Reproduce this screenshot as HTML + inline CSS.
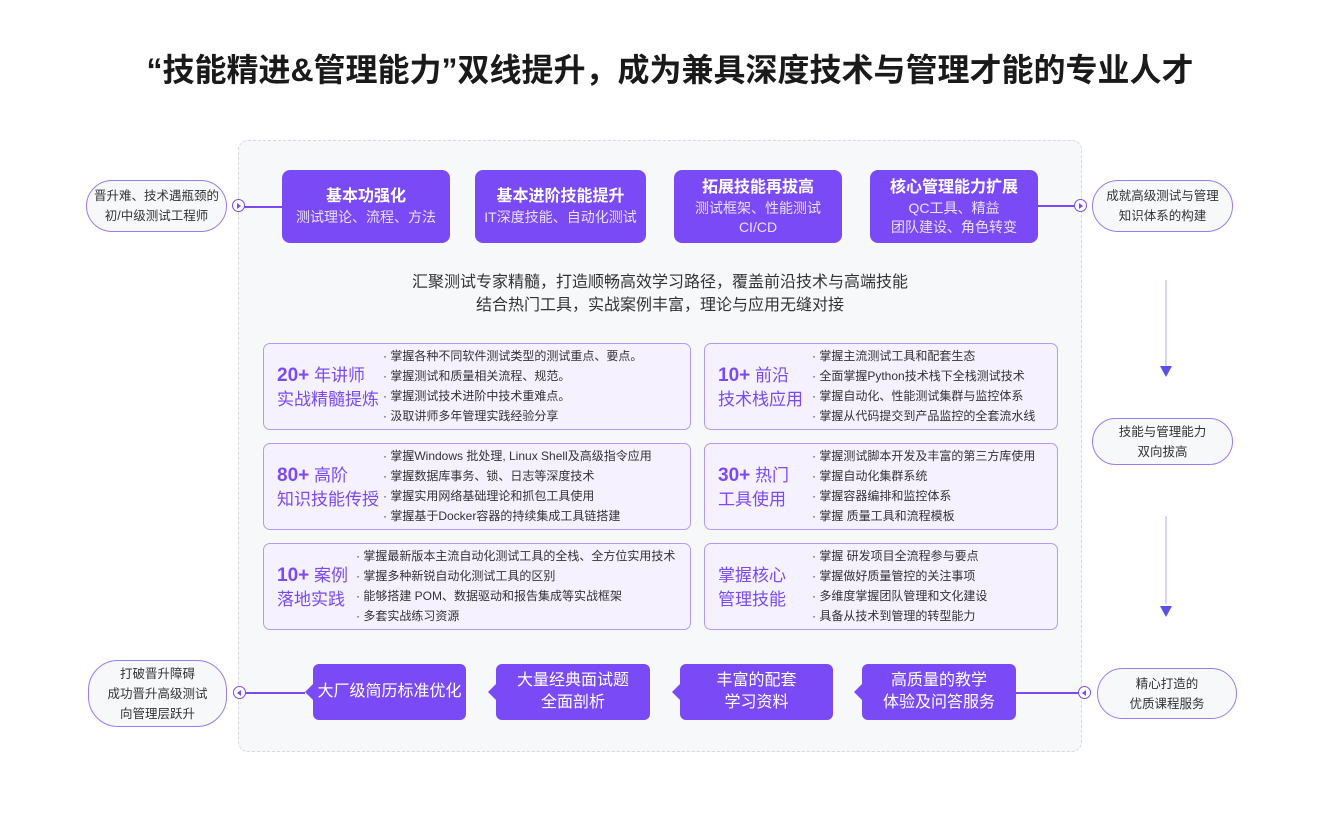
<!DOCTYPE html>
<html><head><meta charset="utf-8"><style>
*{margin:0;padding:0;box-sizing:border-box}
body{width:1328px;height:817px;background:#fff;position:relative;overflow:hidden;font-family:"Liberation Sans","Noto Sans CJK SC",sans-serif;color:#333}
.a{position:absolute}
.title{left:0;width:1340px;top:45px;text-align:center;font-size:32px;font-weight:bold;color:#1a1a1a}
.cont{left:238px;top:140px;width:844px;height:612px;background:#f7f8fa;border:1px dashed #d8d8de;border-radius:10px}
.tb{background:#7b4af7;color:#fff;border-radius:8px;text-align:center;top:170px;height:73px;display:flex;flex-direction:column;justify-content:center}
.tb b{font-size:16px;line-height:22px}
.tb span{font-size:14px;line-height:19px;color:#e8e0ff}
.pill{background:#f7f8fa;border:1.5px solid #9b7af5;border-radius:30px;text-align:center;font-size:12.5px;line-height:20px;display:flex;flex-direction:column;justify-content:center;color:#333}
.cir{width:13px;height:13px;border:1.5px solid #7b4af7;border-radius:50%;background:#fff}
.cir:after{content:"";position:absolute;left:3.5px;top:2.5px;border-left:4px solid #7b4af7;border-top:3px solid transparent;border-bottom:3px solid transparent}
.cir.l:after{left:2.5px;border-left:0;border-right:4px solid #7b4af7}
.ln{height:1.5px;background:#7b4af7}
.mid{left:238px;width:844px;text-align:center;font-size:16px;line-height:23px;color:#333}
.card{background:#f5f1ff;border:1.5px solid #b39af5;border-radius:7px}
.big{color:#7b4af7;font-size:17px;line-height:24px}
.big b{font-size:19px;font-weight:600}
.ul{font-size:12px;line-height:20px;color:#333;white-space:nowrap}
.bb{background:#7b4af7;color:#fff;border-radius:6px;top:664px;height:56px;text-align:center;font-size:16px;line-height:22px;display:flex;flex-direction:column;justify-content:center}
.bb:before{content:"";position:absolute;left:-8px;top:20px;border-right:8px solid #7b4af7;border-top:8px solid transparent;border-bottom:8px solid transparent}
.vl{width:1.5px;background:#d8d6f2}
.ah{border-top:11px solid #5b50e8;border-left:6px solid transparent;border-right:6px solid transparent}
</style></head><body>
<div class="a title">“技能精进&amp;管理能力”双线提升，成为兼具深度技术与管理才能的专业人才</div>
<div class="a cont"></div>

<div class="a pill" style="left:86px;top:180px;width:141px;height:52px">晋升难、技术遇瓶颈的<br>初/中级测试工程师</div>
<div class="a ln" style="left:238px;top:206px;width:44px"></div>
<div class="a cir" style="left:232px;top:199px"></div>

<div class="a tb" style="left:282px;width:168px"><b>基本功强化</b><span>测试理论、流程、方法</span></div>
<div class="a tb" style="left:475px;width:171px"><b>基本进阶技能提升</b><span>IT深度技能、自动化测试</span></div>
<div class="a tb" style="left:674px;width:168px"><b>拓展技能再拔高</b><span>测试框架、性能测试<br>CI/CD</span></div>
<div class="a tb" style="left:870px;width:168px"><b>核心管理能力扩展</b><span>QC工具、精益<br>团队建设、角色转变</span></div>

<div class="a ln" style="left:1038px;top:205px;width:44px"></div>
<div class="a cir" style="left:1074px;top:199px"></div>
<div class="a pill" style="left:1092px;top:180px;width:141px;height:52px">成就高级测试与管理<br>知识体系的构建</div>

<div class="a mid" style="top:271px">汇聚测试专家精髓，打造顺畅高效学习路径，覆盖前沿技术与高端技能<br>结合热门工具，实战案例丰富，理论与应用无缝对接</div>

<div class="a card" style="left:263px;top:343px;width:428px;height:87px"></div>
<div class="a big" style="left:277px;top:364px"><b>20+</b> 年讲师<br>实战精髓提炼</div>
<div class="a ul" style="left:383px;top:346px">· 掌握各种不同软件测试类型的测试重点、要点。<br>· 掌握测试和质量相关流程、规范。<br>· 掌握测试技术进阶中技术重难点。<br>· 汲取讲师多年管理实践经验分享</div>

<div class="a card" style="left:263px;top:443px;width:428px;height:87px"></div>
<div class="a big" style="left:277px;top:464px"><b>80+</b> 高阶<br>知识技能传授</div>
<div class="a ul" style="left:383px;top:446px">· 掌握Windows 批处理, Linux Shell及高级指令应用<br>· 掌握数据库事务、锁、日志等深度技术<br>· 掌握实用网络基础理论和抓包工具使用<br>· 掌握基于Docker容器的持续集成工具链搭建</div>

<div class="a card" style="left:263px;top:543px;width:428px;height:87px"></div>
<div class="a big" style="left:277px;top:564px"><b>10+</b> 案例<br>落地实践</div>
<div class="a ul" style="left:356px;top:546px">· 掌握最新版本主流自动化测试工具的全栈、全方位实用技术<br>· 掌握多种新锐自动化测试工具的区别<br>· 能够搭建 POM、数据驱动和报告集成等实战框架<br>· 多套实战练习资源</div>

<div class="a card" style="left:704px;top:343px;width:354px;height:87px"></div>
<div class="a big" style="left:718px;top:364px"><b>10+</b> 前沿<br>技术栈应用</div>
<div class="a ul" style="left:812px;top:346px">· 掌握主流测试工具和配套生态<br>· 全面掌握Python技术栈下全栈测试技术<br>· 掌握自动化、性能测试集群与监控体系<br>· 掌握从代码提交到产品监控的全套流水线</div>

<div class="a card" style="left:704px;top:443px;width:354px;height:87px"></div>
<div class="a big" style="left:718px;top:464px"><b>30+</b> 热门<br>工具使用</div>
<div class="a ul" style="left:812px;top:446px">· 掌握测试脚本开发及丰富的第三方库使用<br>· 掌握自动化集群系统<br>· 掌握容器编排和监控体系<br>· 掌握 质量工具和流程模板</div>

<div class="a card" style="left:704px;top:543px;width:354px;height:87px"></div>
<div class="a big" style="left:718px;top:564px">掌握核心<br>管理技能</div>
<div class="a ul" style="left:812px;top:546px">· 掌握 研发项目全流程参与要点<br>· 掌握做好质量管控的关注事项<br>· 多维度掌握团队管理和文化建设<br>· 具备从技术到管理的转型能力</div>

<div class="a vl" style="left:1165px;top:280px;height:88px"></div>
<div class="a ah" style="left:1160px;top:366px"></div>
<div class="a pill" style="left:1092px;top:418px;width:141px;height:47px">技能与管理能力<br>双向拔高</div>
<div class="a vl" style="left:1165px;top:516px;height:88px"></div>
<div class="a ah" style="left:1160px;top:606px"></div>

<div class="a pill" style="left:88px;top:660px;width:139px;height:67px">打破晋升障碍<br>成功晋升高级测试<br>向管理层跃升</div>
<div class="a ln" style="left:240px;top:692px;width:65px"></div>
<div class="a cir l" style="left:233px;top:686px"></div>
<div class="a bb" style="left:313px;width:153px">大厂级简历标准优化</div>
<div class="a bb" style="left:496px;width:154px">大量经典面试题<br>全面剖析</div>
<div class="a bb" style="left:680px;width:153px">丰富的配套<br>学习资料</div>
<div class="a bb" style="left:862px;width:154px">高质量的教学<br>体验及问答服务</div>
<div class="a ln" style="left:1016px;top:692px;width:70px"></div>
<div class="a cir l" style="left:1078px;top:686px"></div>
<div class="a pill" style="left:1097px;top:668px;width:140px;height:51px">精心打造的<br>优质课程服务</div>
</body></html>
